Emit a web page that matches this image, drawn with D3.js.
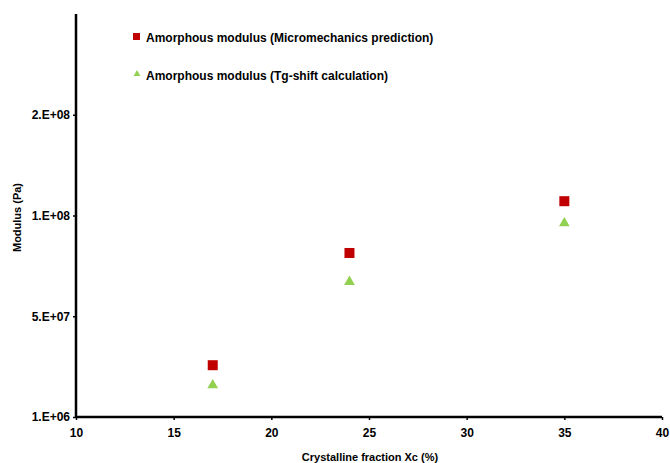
<!DOCTYPE html>
<html>
<head>
<meta charset="utf-8">
<script src="https://cdn.jsdelivr.net/npm/d3@7"></script>
<style>
  body { margin: 0; background: #fff; }
  text { font-family: "Liberation Sans", Arial, sans-serif; font-weight: bold; fill: #000; }
</style>
</head>
<body>
<div id="chart"></div>
<script>
const xValues = [17, 24, 35];
const micromechanics = [2.67e7, 8.24e7, 1.081e8];
const tgShift = [1.68e7, 6.81e7, 9.72e7];
const xTicks = [10, 15, 20, 25, 30, 35, 40];
const yTicks = [1e6, 5.1e7, 1.01e8, 1.51e8];
const yTickLabels = ['1.E+06', '5.E+07', '1.E+08', '2.E+08'];
const seriesNames = ['Amorphous modulus (Micromechanics prediction)', 'Amorphous modulus (Tg-shift calculation)'];

const W = 670, H = 463;
const margin = { top: 14, right: 8, bottom: 46, left: 76 };
const width = W - margin.left - margin.right;
const height = H - margin.top - margin.bottom;

const svg = d3.select('#chart').append('svg')
    .attr('width', W)
    .attr('height', H);

const chart = svg.append('g')
    .attr('transform', `translate(${margin.left},${margin.top})`);

const x = d3.scaleLinear().domain([10, 40]).range([0, width]);
const y = d3.scaleLinear().domain([1e6, 2.01e8]).range([height, 0]);

const xAxis = chart.append('g')
    .attr('transform', `translate(0,${height})`)
    .call(d3.axisBottom(x).tickValues(xTicks).tickSize(3).tickPadding(8));

const yAxis = chart.append('g')
    .call(d3.axisLeft(y).tickValues(yTicks).tickSize(3).tickPadding(3)
      .tickFormat((d, i) => yTickLabels[i]));

[xAxis, yAxis].forEach(a => {
  a.select('.domain').attr('stroke', '#000').attr('stroke-width', 2.5);
  a.selectAll('.tick line').attr('stroke', '#000').attr('stroke-width', 1.5);
  a.selectAll('.tick text').style('font-size', '12px');
});
yAxis.select('.domain').attr('d', `M0,${height}V0`);
xAxis.select('.domain').attr('d', `M0,0H${width}`);

const red = '#c00000';
const green = '#92d050';

chart.selectAll('.sq')
  .data(xValues.map((d, i) => [d, micromechanics[i]]))
  .join('rect')
    .attr('x', d => x(d[0]) - 5)
    .attr('y', d => y(d[1]) - 5)
    .attr('width', 10)
    .attr('height', 10)
    .attr('fill', red);

const tri = d3.symbol().type(d3.symbolTriangle).size(50);
chart.selectAll('.tri')
  .data(xValues.map((d, i) => [d, tgShift[i]]))
  .join('path')
    .attr('d', tri)
    .attr('transform', d => `translate(${x(d[0])},${y(d[1])})`)
    .attr('fill', green);

// legend
const legend = svg.append('g');
legend.append('rect')
    .attr('x', 133).attr('y', 33).attr('width', 7).attr('height', 7)
    .attr('fill', red);
legend.append('text')
    .attr('x', 146).attr('y', 41.5)
    .style('font-size', '12px')
    .text(seriesNames[0]);
legend.append('path')
    .attr('d', d3.symbol().type(d3.symbolTriangle).size(20))
    .attr('transform', 'translate(137,74)')
    .attr('fill', green);
legend.append('text')
    .attr('x', 146).attr('y', 79.5)
    .style('font-size', '12px')
    .text(seriesNames[1]);

// axis titles
svg.append('text')
    .attr('x', 370)
    .attr('y', 461)
    .attr('text-anchor', 'middle')
    .style('font-size', '11px')
    .text('Crystalline fraction Xc (%)');

svg.append('text')
    .attr('transform', `translate(21,${margin.top + height / 2 + 2}) rotate(-90)`)
    .attr('text-anchor', 'middle')
    .style('font-size', '11px')
    .text('Modulus (Pa)');
</script>
</body>
</html>
